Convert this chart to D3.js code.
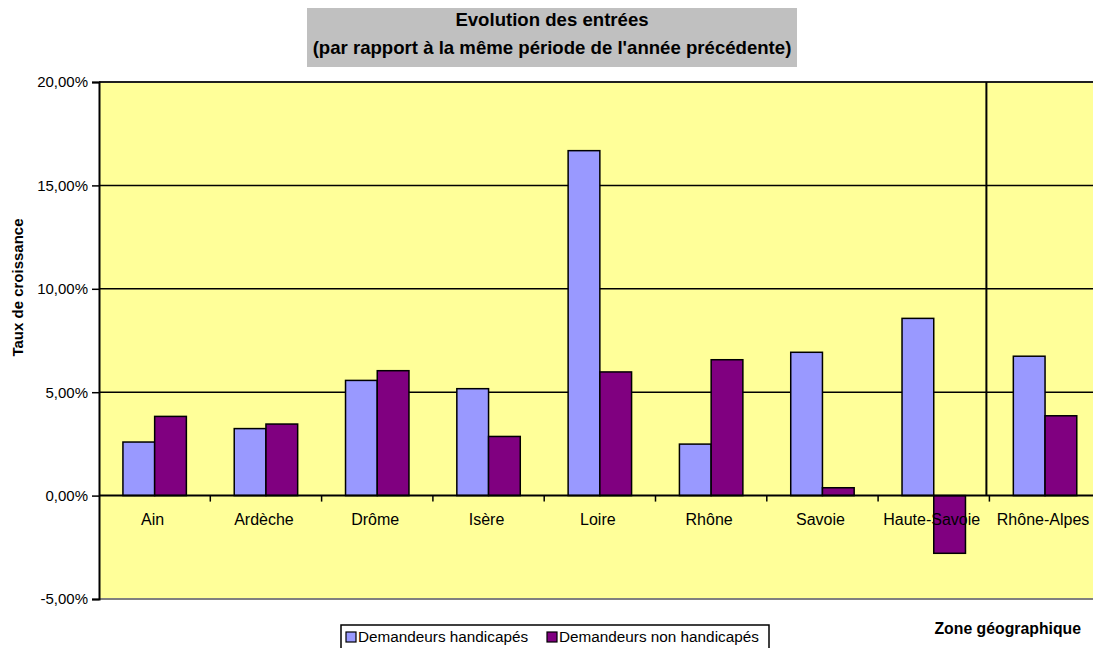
<!DOCTYPE html>
<html>
<head>
<meta charset="utf-8">
<script src="https://cdn.jsdelivr.net/npm/d3@7"></script>
<style>
    body { margin: 0; background: #fff; }
    svg text { font-family: "Liberation Sans", Arial, sans-serif; }
</style>
</head>
<body>
<div class="canvas"></div>
<script>
// donnees
const categories = ["Ain", "Ardèche", "Drôme", "Isère", "Loire", "Rhône", "Savoie", "Haute-Savoie", "Rhône-Alpes"];
const handicapes = [0.0259, 0.0324, 0.0557, 0.0517, 0.1668, 0.0249, 0.0693, 0.0857, 0.0674];
const nonHandicapes = [0.0383, 0.0346, 0.0604, 0.0286, 0.0598, 0.0657, 0.0038, -0.0279, 0.0386];
const seriesNames = ["Demandeurs handicapés", "Demandeurs non handicapés"];
const yTicks = [-0.05, 0, 0.05, 0.10, 0.15, 0.20];
const titleLines = ["Evolution des entrées", "(par rapport à la même période de l'année précédente)"];

const colors = ["#9999ff", "#800080"];

var svg = d3.select(".canvas")
    .append("svg")
    .attr("width", 1093)
    .attr("height", 648);

// zone de tracé
const plotLeft = 99, plotTop = 82, plotBottom = 599;
const band = 111.3;
const plotRight = plotLeft + band * categories.length;

var x = d3.scaleBand()
    .domain(categories)
    .range([plotLeft, plotRight])
    .paddingInner(0.43)
    .paddingOuter(0.215);

var xSub = d3.scaleBand()
    .domain([0, 1])
    .range([0, x.bandwidth()]);

var y = d3.scaleLinear()
    .domain([-0.05, 0.20])
    .range([plotBottom, plotTop]);

// format francais, tiret simple pour le moins
var fr = d3.formatLocale({ decimal: ",", thousands: " ", grouping: [3], currency: ["", " €"], minus: "-", percent: "%" });
var fmt = fr.format(".2%");

svg.append("rect")
    .attr("x", plotLeft)
    .attr("y", plotTop)
    .attr("width", plotRight - plotLeft)
    .attr("height", plotBottom - plotTop)
    .attr("fill", "#ffff99");

// bords gris haut / bas
svg.append("line")
    .attr("x1", plotLeft).attr("x2", plotRight)
    .attr("y1", plotTop).attr("y2", plotTop)
    .attr("stroke", "#808080").attr("stroke-width", 2);
svg.append("line")
    .attr("x1", plotLeft).attr("x2", plotRight)
    .attr("y1", plotBottom).attr("y2", plotBottom)
    .attr("stroke", "#808080").attr("stroke-width", 2);

// quadrillage
svg.selectAll(".grid")
    .data(yTicks.filter(d => d > -0.05 && d !== 0))
    .enter()
    .append("line")
    .attr("class", "grid")
    .attr("x1", plotLeft).attr("x2", plotRight)
    .attr("y1", d => y(d)).attr("y2", d => y(d))
    .attr("stroke", "#000")
    .attr("stroke-width", 1.5);

// trait vertical avant Rhône-Alpes
var sep = x("Rhône-Alpes") - x.step() * x.paddingInner() / 2 - 3;
svg.append("line")
    .attr("x1", sep).attr("x2", sep)
    .attr("y1", plotTop).attr("y2", y(0))
    .attr("stroke", "#000")
    .attr("stroke-width", 2);

// barres
var groups = svg.selectAll(".el")
    .data(categories)
    .enter()
    .append("g")
    .attr("class", "el")
    .attr("transform", d => "translate(" + x(d) + ",0)");

groups.selectAll("rect")
    .data((d, i) => [handicapes[i], nonHandicapes[i]])
    .enter()
    .append("rect")
    .attr("x", (d, j) => xSub(j))
    .attr("y", d => y(Math.max(0, d)))
    .attr("width", xSub.bandwidth())
    .attr("height", d => Math.abs(y(d) - y(0)))
    .attr("fill", (d, j) => colors[j])
    .attr("stroke", "#000")
    .attr("stroke-width", 1.5);

// axe des x a zero
svg.append("line")
    .attr("x1", plotLeft).attr("x2", plotRight)
    .attr("y1", y(0)).attr("y2", y(0))
    .attr("stroke", "#000")
    .attr("stroke-width", 2);

svg.selectAll(".xtick")
    .data(d3.range(1, categories.length))
    .enter()
    .append("line")
    .attr("class", "xtick")
    .attr("x1", i => plotLeft + i * x.step()).attr("x2", i => plotLeft + i * x.step())
    .attr("y1", y(0)).attr("y2", y(0) + 6)
    .attr("stroke", "#000")
    .attr("stroke-width", 1.5);

svg.selectAll(".xlabel")
    .data(categories)
    .enter()
    .append("text")
    .attr("class", "xlabel")
    .attr("x", d => x(d) + x.bandwidth() / 2 - 2)
    .attr("y", y(0) + 29)
    .attr("text-anchor", "middle")
    .attr("font-size", "16px")
    .attr("fill", "#000")
    .text(d => d);

// axe des y
var yAxis = d3.axisLeft(y)
    .tickValues(yTicks)
    .tickFormat(fmt)
    .tickSize(7)
    .tickPadding(4);

var gy = svg.append("g")
    .attr("transform", "translate(" + plotLeft + ",0)")
    .call(yAxis);
gy.select(".domain").attr("stroke", "#000").attr("stroke-width", 2);
gy.selectAll(".tick line").attr("stroke", "#000").attr("stroke-width", 1.5);
gy.selectAll(".tick text")
    .attr("font-family", "Liberation Sans, Arial, sans-serif")
    .attr("font-size", "15px")
    .attr("fill", "#000");

// titres des axes
svg.append("text")
    .attr("transform", "translate(23," + ((plotTop + plotBottom) / 2 - 53) + ") rotate(-90)")
    .attr("text-anchor", "middle")
    .attr("font-size", "15px")
    .attr("font-weight", "bold")
    .text("Taux de croissance");

svg.append("text")
    .attr("x", 1081)
    .attr("y", 634)
    .attr("text-anchor", "end")
    .attr("font-size", "15.8px")
    .attr("font-weight", "bold")
    .text("Zone géographique");

// titre
svg.append("rect")
    .attr("x", 307).attr("y", 8)
    .attr("width", 490).attr("height", 59)
    .attr("fill", "#c0c0c0");

svg.selectAll(".title")
    .data(titleLines)
    .enter()
    .append("text")
    .attr("class", "title")
    .attr("x", 552)
    .attr("y", (d, i) => 26 + i * 28)
    .attr("text-anchor", "middle")
    .attr("font-size", "18.6px")
    .attr("font-weight", "bold")
    .attr("fill", "#000")
    .text(d => d);

// legende
var legend = svg.append("g").attr("transform", "translate(341,625)");
legend.append("rect")
    .attr("width", 428).attr("height", 30)
    .attr("fill", "#fff")
    .attr("stroke", "#000")
    .attr("stroke-width", 1.5);

var items = legend.selectAll(".item")
    .data(seriesNames)
    .enter()
    .append("g")
    .attr("class", "item")
    .attr("transform", (d, i) => "translate(" + (5 + i * 201) + ",0)");

items.append("rect")
    .attr("y", 7)
    .attr("width", 10).attr("height", 10)
    .attr("fill", (d, i) => colors[i])
    .attr("stroke", "#000")
    .attr("stroke-width", 1.2);

items.append("text")
    .attr("x", 12)
    .attr("y", 17)
    .attr("font-size", "15.3px")
    .attr("fill", "#000")
    .text(d => d);
</script>
</body>
</html>
